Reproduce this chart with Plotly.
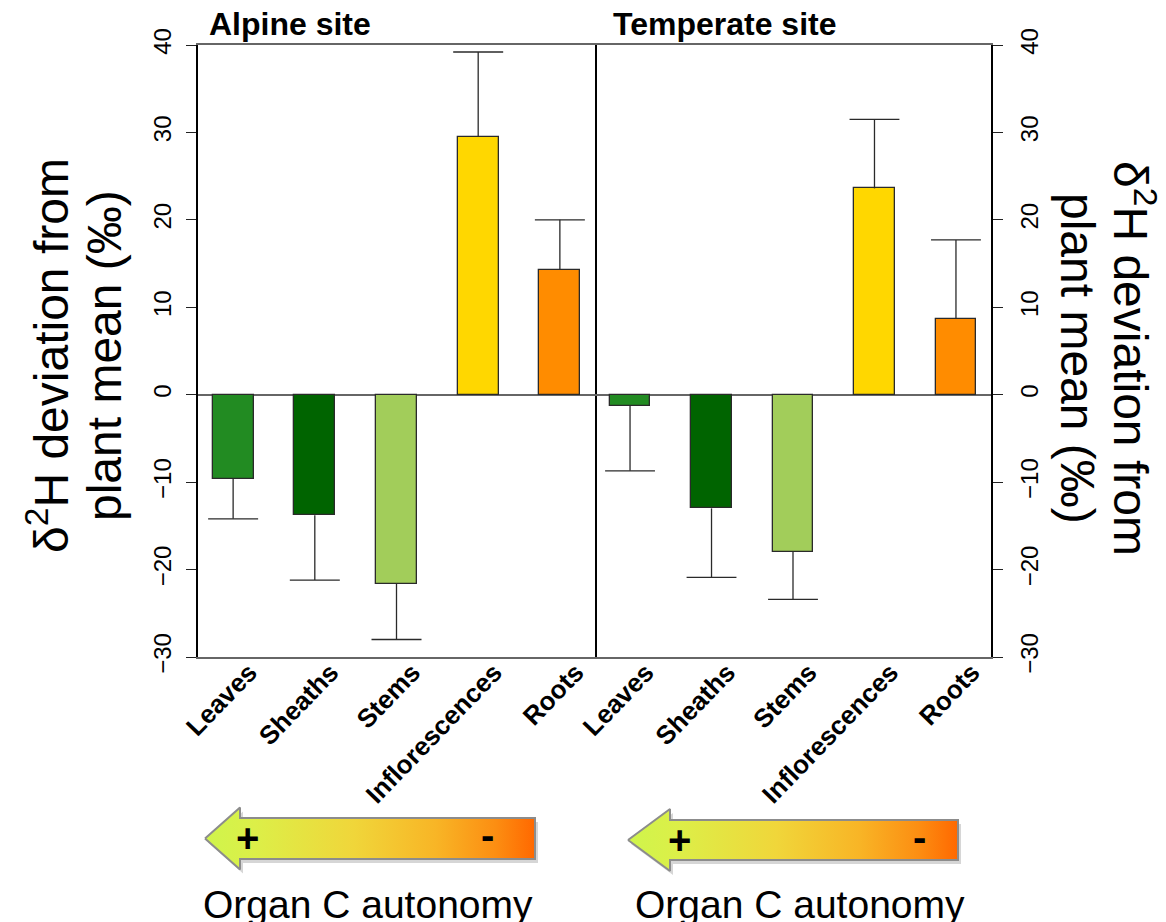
import plotly.graph_objects as go

# ---------------- data ----------------
categories = ["Leaves", "Sheaths", "Stems", "Inflorescences", "Roots"]
alpine_mean = [-9.6, -13.8, -21.6, 29.5, 14.3]
alpine_err = [4.6, 7.4, 6.4, 9.7, 5.7]
temperate_mean = [-1.3, -13.0, -18.0, 23.6, 8.7]
temperate_err = [7.4, 7.9, 5.4, 7.9, 9.0]
bar_colors = ["#228B22", "#006400", "#A2CD5A", "#FFD700", "#FF8C00"]
panel_titles = ["Alpine site", "Temperate site"]
y_ticks = [-30, -20, -10, 0, 10, 20, 30, 40]
y_title_lines = ["δ<sup>2</sup>H deviation from", "plant mean (‰)"]
arrow_label = "Organ C autonomy"

# ---------------- styling ----------------
W, H = 1166, 922
FONT = "Liberation Sans, Arial, Helvetica, sans-serif"
EDGE = "#2a2a2a"
CAP = 0.306          # half width of error bar caps (x units)
xpos = list(range(len(categories)))

fig = go.Figure()


def add_panel(means, errs, xa, ya):
    fig.add_trace(go.Bar(
        x=xpos, y=means, width=0.5,
        marker=dict(color=bar_colors, line=dict(color=EDGE, width=1.3)),
        xaxis=xa, yaxis=ya, hoverinfo="skip", showlegend=False))
    ex, ey = [], []
    for x, m, e in zip(xpos, means, errs):
        tip = m + e if m >= 0 else m - e
        ex += [x, x, None, x - CAP, x + CAP, None]
        ey += [m, tip, None, tip, tip, None]
    fig.add_trace(go.Scatter(
        x=ex, y=ey, mode="lines", line=dict(color=EDGE, width=1.3),
        xaxis=xa, yaxis=ya, hoverinfo="skip", showlegend=False))


add_panel(alpine_mean, alpine_err, "x", "y")
add_panel(temperate_mean, temperate_err, "x2", "y2")


# ---------------- gradient arrows (pixel overlay axes) ----------------
def add_arrow(tipx, basex, endx, cy, headhalf, bodyhalf):
    px = [tipx, basex, basex, endx, endx, basex, basex, tipx]
    py = [cy, cy - headhalf, cy - bodyhalf, cy - bodyhalf,
          cy + bodyhalf, cy + bodyhalf, cy + headhalf, cy]
    # soft shadow
    fig.add_trace(go.Scatter(
        x=[p + 3 for p in px], y=[p + 4 for p in py], mode="lines",
        fill="toself", fillcolor="rgba(0,0,0,0.16)", line=dict(width=0),
        xaxis="x3", yaxis="y3", hoverinfo="skip", showlegend=False))
    fig.add_trace(go.Scatter(
        x=px, y=py, mode="lines", fill="toself",
        fillgradient=dict(
            type="horizontal",
            colorscale=[[0, "#cff54c"], [0.15, "#dcef48"], [0.45, "#f0d63a"],
                        [0.7, "#f8b526"], [0.88, "#fc8e12"], [1, "#ff6800"]]),
        line=dict(color="#8c8c8c", width=2),
        xaxis="x3", yaxis="y3", hoverinfo="skip", showlegend=False))


add_arrow(205, 240, 535, 838.5, 31, 20.5)
add_arrow(628, 670, 958, 840, 31, 20)

annotations = []
# panel titles
annotations.append(dict(x=207, y=24, xref="x3", yref="y3", text=panel_titles[0],
                        showarrow=False, xanchor="left", yanchor="middle",
                        font=dict(size=32, family=FONT, weight="bold", color="black")))
annotations.append(dict(x=611, y=24, xref="x3", yref="y3", text=panel_titles[1],
                        showarrow=False, xanchor="left", yanchor="middle",
                        font=dict(size=32, family=FONT, weight="bold", color="black")))
# y titles (one annotation per line)
for (lx, rx), line in zip([(48, 1134), (104, 1078)], y_title_lines):
    annotations.append(dict(x=lx, y=356, xref="x3", yref="y3", text=line, textangle=-90,
                            showarrow=False, xanchor="center", yanchor="middle",
                            font=dict(size=48, family=FONT, color="black")))
    annotations.append(dict(x=rx, y=358, xref="x3", yref="y3", text=line, textangle=90,
                            showarrow=False, xanchor="center", yanchor="middle",
                            font=dict(size=48, family=FONT, color="black")))
# arrow signs and labels
for sx, mx, cy, lx in [(247, 487, 838, 368), (679, 919, 840, 800)]:
    annotations.append(dict(x=sx, y=cy, xref="x3", yref="y3", text="+", showarrow=False,
                            xanchor="center", yanchor="middle",
                            font=dict(size=40, family=FONT, weight="bold", color="black")))
    annotations.append(dict(x=mx, y=cy - 3, xref="x3", yref="y3", text="-", showarrow=False,
                            xanchor="center", yanchor="middle",
                            font=dict(size=40, family=FONT, weight="bold", color="black")))
    annotations.append(dict(x=lx, y=904, xref="x3", yref="y3", text=arrow_label,
                            showarrow=False, xanchor="center", yanchor="middle",
                            font=dict(size=39, family=FONT, color="black")))

xaxis_common = dict(
    range=[-0.43, 4.43], tickmode="array", tickvals=xpos, ticktext=categories,
    tickangle=-46, tickfont=dict(size=26, family=FONT, weight="bold", color="black"),
    ticklabelshift=16, ticklabelstandoff=-12,
    showline=True, mirror=True, linecolor="#666666", linewidth=1.5,
    showgrid=False, zeroline=False, ticks="", fixedrange=True, automargin=False)
yaxis_common = dict(
    range=[-30, 40], tickmode="array", tickvals=y_ticks,
    ticks="outside", ticklen=10, tickwidth=1.3, tickcolor="#222222",
    tickangle=-90, tickfont=dict(size=24, family=FONT, color="black"),
    ticklabelstandoff=6,
    showline=True, linecolor="black", linewidth=1.5,
    showgrid=False, zeroline=True, zerolinecolor="#666666", zerolinewidth=1.5,
    domain=[1 - 657 / H, 1 - 45 / H], fixedrange=True, automargin=False)

fig.update_layout(
    width=W, height=H,
    margin=dict(l=0, r=0, t=0, b=0, pad=0, autoexpand=False),
    paper_bgcolor="white", plot_bgcolor="rgba(0,0,0,0)",
    showlegend=False, font=dict(family=FONT, color="black"),
    bargap=0,
    xaxis=dict(domain=[198 / W, 595 / W], anchor="y", **xaxis_common),
    xaxis2=dict(domain=[595 / W, 991 / W], anchor="y2", **xaxis_common),
    yaxis=dict(anchor="x", side="left", mirror=True, **yaxis_common),
    yaxis2=dict(anchor="x2", side="right", matches="y", mirror=False, **yaxis_common),
    xaxis3=dict(domain=[0, 1], range=[0, W], visible=False, anchor="y3",
                fixedrange=True, automargin=False),
    yaxis3=dict(domain=[0, 1], range=[H, 0], visible=False, anchor="x3",
                fixedrange=True, automargin=False),
    annotations=annotations,
)

fig.write_html("out.html")
